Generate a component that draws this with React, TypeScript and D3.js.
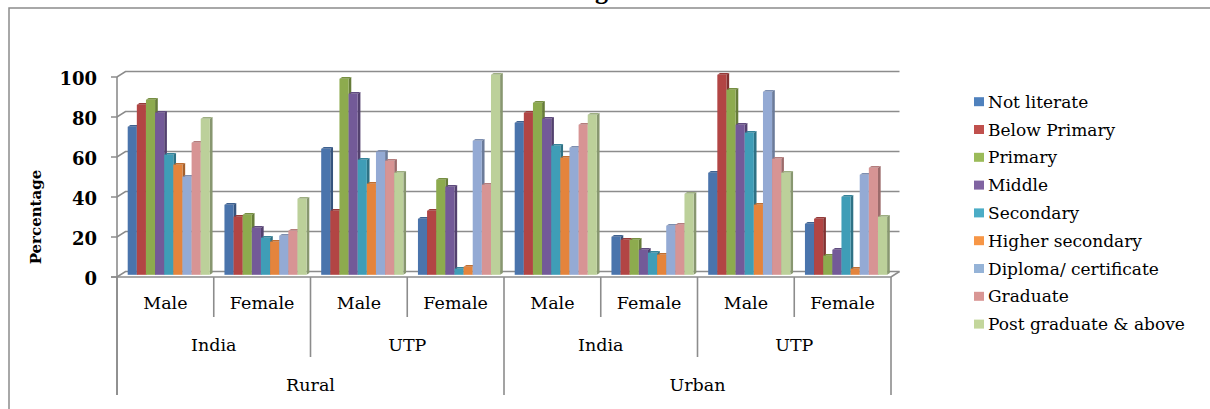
import React, { useEffect, useRef } from 'react';
import * as d3 from 'd3';

// three levels of category labels, innermost first
const genders = ['Male', 'Female', 'Male', 'Female', 'Male', 'Female', 'Male', 'Female'];
const regions = ['India', 'UTP', 'India', 'UTP'];
const areas = ['Rural', 'Urban'];

const seriesNames = [
  'Not literate',
  'Below Primary',
  'Primary',
  'Middle',
  'Secondary',
  'Higher secondary',
  'Diploma/ certificate',
  'Graduate',
  'Post graduate & above',
];

// percentages, one value per gender/region/area column
const notLiterate = [74, 35, 63, 28, 76, 19, 51, 25.5];
const belowPrimary = [85, 29, 32, 32, 81, 17.5, 100, 28];
const primary = [87.5, 30, 98, 47.5, 86, 17.5, 92.5, 9.5];
const middle = [81, 23.5, 90.5, 44, 78, 12.5, 75, 12.5];
const secondary = [60, 18.5, 57.5, 3, 64.5, 11, 71, 39];
const higherSecondary = [55, 16.5, 45.5, 4, 58.5, 10, 35, 3];
const diploma = [49, 19.5, 61.5, 67, 63.5, 24.5, 91.5, 50];
const graduate = [66, 22, 57, 45, 75, 25, 58, 53.5];
const postGraduate = [78, 38, 51, 100, 80, 40.5, 51, 29];

const seriesValues = [
  notLiterate,
  belowPrimary,
  primary,
  middle,
  secondary,
  higherSecondary,
  diploma,
  graduate,
  postGraduate,
];

const colors = ['#4a74ac', '#b24544', '#8dab4e', '#735a98', '#3f9db7', '#e4843c', '#94aad4', '#d79494', '#bcd09a'];
const keyColors = ['#4f81bd', '#c0504d', '#9bbb59', '#8064a2', '#4bacc6', '#f79646', '#95b3d7', '#d99694', '#c3d69b'];

const yTicks = [0, 20, 40, 60, 80, 100];

const App = () => {
  const svgRef = useRef(null);

  useEffect(() => {
    const svg = d3.select(svgRef.current);
    svg.selectAll('*').remove();

    const left = 117,
      right = 891,
      base = 277;
    const depthX = 8.5,
      depthY = 5.5; // back wall offset
    const barX = 3.4,
      barY = 2.2; // bars sit part way into the depth
    const sideX = 2.7,
      sideY = 1.75; // bar thickness
    const grid = '#8c8c8c';
    const serif = 'DejaVu Serif';

    const y = d3.scaleLinear().domain([0, 100]).range([base, 77]);
    const x = d3.scaleBand().domain(d3.range(genders.length)).range([left, right]);
    const xs = d3.scaleBand().domain(d3.range(seriesNames.length)).range([0, x.bandwidth()]).paddingOuter(0.8);
    const bw = x.bandwidth();

    // chart frame
    svg
      .append('rect')
      .attr('x', 9)
      .attr('y', 8)
      .attr('width', 1240)
      .attr('height', 440)
      .attr('fill', 'none')
      .attr('stroke', grid)
      .attr('stroke-width', 1.5);

    // title, all but its descender above the top of the picture
    svg
      .append('text')
      .attr('x', 572)
      .attr('y', -1.5)
      .attr('font-family', 'Liberation Serif')
      .attr('font-weight', 'bold')
      .attr('font-size', 26)
      .text('Figure');

    // walls + gridlines
    const g = svg.append('g').attr('stroke', grid).attr('stroke-width', 1.6).attr('fill', 'none');
    yTicks.forEach((v) => {
      const yy = y(v);
      g.append('path').attr(
        'd',
        `M${left - 6},${yy}H${left}L${left + depthX},${yy - depthY}H${right + depthX}`
      );
    });
    g.append('path').attr('d', `M${left - 6},${base}H${right}L${right + depthX},${base - depthY}`);
    g.append('path').attr('d', `M${left},${y(100)}V395`);

    // bars
    const bars = svg.append('g');
    genders.forEach((_, i) => {
      seriesValues.forEach((vals, j) => {
        const v = vals[i];
        const x0 = x(i) + xs(j) + barX;
        const w = xs.bandwidth();
        const top = y(v) - barY;
        const bot = base - barY;
        const c = d3.color(colors[j]);
        bars
          .append('path')
          .attr('d', `M${x0 + w},${top}L${x0 + w + sideX},${top - sideY}V${bot - sideY}L${x0 + w},${bot}Z`)
          .attr('fill', c.darker(0.9).formatHex());
        bars
          .append('path')
          .attr('d', `M${x0},${top}L${x0 + sideX},${top - sideY}H${x0 + w + sideX}L${x0 + w},${top}Z`)
          .attr('fill', c.darker(0.5).formatHex());
        bars
          .append('rect')
          .attr('x', x0)
          .attr('y', top)
          .attr('width', w)
          .attr('height', bot - top)
          .attr('fill', colors[j]);
      });
    });

    // category separators
    const sep = svg.append('g').attr('stroke', grid).attr('stroke-width', 1.6);
    d3.range(genders.length + 1).forEach((i) => {
      const xx = i < genders.length ? x(i) : right;
      const len = i % 4 === 0 ? 395 : i % 2 === 0 ? 357 : 317;
      sep.append('line').attr('x1', xx).attr('x2', xx).attr('y1', base).attr('y2', len);
    });

    const labels = svg
      .append('g')
      .attr('font-family', serif)
      .attr('font-size', 17.5)
      .attr('text-anchor', 'middle')
      .attr('dominant-baseline', 'central')
      .attr('fill', '#000');
    genders.forEach((t, i) => labels.append('text').attr('x', x(i) + bw / 2).attr('y', 303).text(t));
    regions.forEach((t, i) => labels.append('text').attr('x', x(i * 2) + bw).attr('y', 345).text(t));
    areas.forEach((t, i) => labels.append('text').attr('x', x(i * 4) + bw * 2).attr('y', 385).text(t));

    // y axis labels
    const yl = svg
      .append('g')
      .attr('font-family', serif)
      .attr('font-weight', 'bold')
      .attr('font-size', 18)
      .attr('text-anchor', 'end')
      .attr('dominant-baseline', 'central');
    yTicks.forEach((v) => yl.append('text').attr('x', 97).attr('y', y(v) + 1).text(v));

    svg
      .append('text')
      .attr('transform', 'translate(36,217) rotate(-90)')
      .attr('font-family', serif)
      .attr('font-weight', 'bold')
      .attr('font-size', 15)
      .attr('text-anchor', 'middle')
      .attr('dominant-baseline', 'central')
      .text('Percentage');

    // legend
    const lg = svg.append('g').attr('font-family', serif).attr('font-size', 17);
    seriesNames.forEach((name, j) => {
      const cy = 101.7 + j * 27.8;
      lg.append('rect').attr('x', 974).attr('y', cy - 4.5).attr('width', 10).attr('height', 9).attr('fill', keyColors[j]);
      lg.append('text').attr('x', 988).attr('y', cy).attr('dominant-baseline', 'central').text(name);
    });
  }, []);

  return (
    <svg
      ref={svgRef}
      width={1210}
      height={409}
      style={{ position: 'absolute', left: 0, top: 0, background: '#fff' }}
    ></svg>
  );
};

export default App;
